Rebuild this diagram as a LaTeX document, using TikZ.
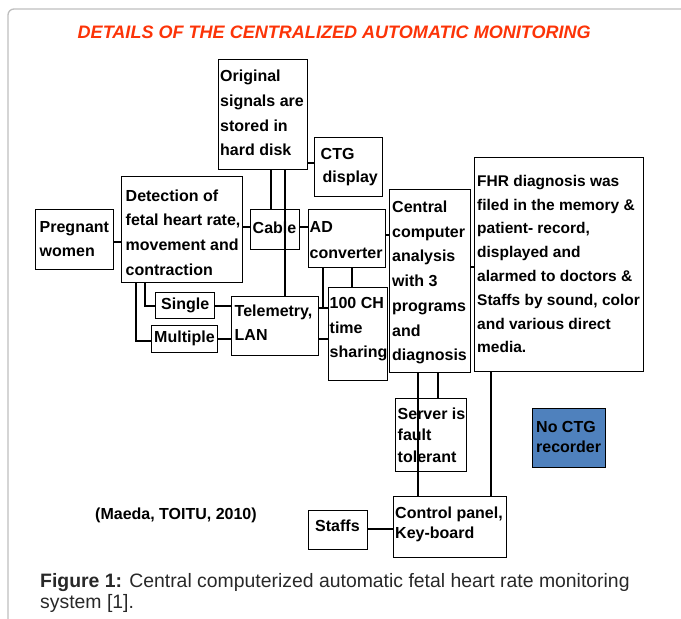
\documentclass[tikz,border=0pt]{standalone}
\usepackage{fontspec}
\setmainfont{Liberation Sans}
\definecolor{titlered}{RGB}{252,52,8}
\definecolor{boxblue}{RGB}{79,129,189}
\definecolor{framegray}{RGB}{190,190,190}
\definecolor{captiongray}{RGB}{40,40,40}
\begin{document}
\begin{tikzpicture}[x=1pt,y=-1pt,
  bx/.style={draw=black, line width=1.2pt, inner sep=0pt, anchor=north west},
  tx/.style={font=\bfseries\fontsize{16}{#1}\selectfont, align=left, inner sep=0pt, anchor=west},
  tx/.default=24,
  ln/.style={draw=black, line width=1.2pt}
]
\useasboundingbox (0,0) rectangle (681,619);
\draw[framegray, line width=1.3pt, rounded corners=6pt] (8,619) -- (8,9) -- (681,9);

\node[font=\bfseries\itshape\fontsize{18.05}{20}\selectfont, text=titlered, inner sep=0pt, anchor=west] (title) at (77.5,32) {DETAILS OF THE CENTRALIZED AUTOMATIC MONITORING};

% boxes
\node[bx, minimum width=89pt, minimum height=110pt] (orig) at (218,59) {};
\node[tx=24.7] (origT) at (220,113) {Original\\signals are\\stored in\\hard disk};
\node[bx, minimum width=68pt, minimum height=59pt] (ctg) at (314,137) {};
\node[tx=23.3] (ctgT) at (320.5,167) {CTG\\\hspace{2pt}display};
\node[bx, minimum width=78pt, minimum height=60pt] (preg) at (35,209) {};
\node[tx=24] (pregT) at (39.5,239.5) {Pregnant\\women};
\node[bx, minimum width=121pt, minimum height=106pt] (det) at (121,176) {};
\node[tx=24.7] (detT) at (125.5,232.5) {Detection of\\fetal heart rate,\\movement and\\contraction};
\node[bx, minimum width=49pt, minimum height=40pt] (cable) at (250,209) {};
\node[tx] (cableT) at (252.5,227.5) {Cable};
\node[bx, minimum width=77pt, minimum height=58pt] (ad) at (308,209) {};
\node[tx=26] (adT) at (309.5,240) {AD\\converter};
\node[bx, minimum width=81pt, minimum height=183pt] (cen) at (389,189) {};
\node[tx=24.7] (cenT) at (392,282.5) {Central\\computer\\analysis\\with 3\\programs\\and\\diagnosis};
\node[bx, minimum width=169pt, minimum height=214pt] (fhr) at (474,157) {};
\node[font=\bfseries\fontsize{15.5}{23.8}\selectfont, align=left, inner sep=0pt, anchor=west] (fhrT) at (477,264) {FHR diagnosis was\\filed in the memory \&\\patient- record,\\displayed and\\alarmed to doctors \&\\Staffs by sound, color\\and various direct\\media.};
\node[bx, minimum width=59pt, minimum height=93pt] (ch) at (328,287) {};
\node[tx=24.5] (chT) at (329.5,329.5) {100 CH\\time\\sharing};
\node[bx, minimum width=87pt, minimum height=59pt] (tele) at (231,296) {};
\node[tx=24] (teleT) at (234.5,322.5) {Telemetry,\\LAN};
\node[bx, minimum width=59pt, minimum height=26pt] (single) at (155,292) {};
\node[tx] (singleT) at (161,305) {Single};
\node[bx, minimum width=66pt, minimum height=27pt] (multi) at (151,325) {};
\node[tx] (multiT) at (154,338) {Multiple};
\node[bx, minimum width=71pt, minimum height=73pt] (server) at (395,398) {};
\node[tx=21.7] (serverT) at (397.5,435) {Server is\\fault\\tolerant};
\node[bx, minimum width=113pt, minimum height=61pt] (ctrl) at (393,496) {};
\node[tx=20] (ctrlT) at (395,524.5) {Control panel,\\Key-board};
\node[bx, minimum width=59pt, minimum height=39pt] (staffs) at (308,510) {};
\node[tx] (staffsT) at (315,526) {Staffs};
\node[bx, fill=boxblue, minimum width=73pt, minimum height=59pt] (noctg) at (532,408) {};
\node[tx=20] (noctgT) at (536,436.5) {No CTG\\recorder};
\node[tx] (maeda) at (95,515) {(Maeda, TOITU, 2010)};

% connectors
\draw[ln] (preg.east |- 0,242) -- (det.west |- 0,242);
\draw[ln] (det.east |- 0,227) -- (cable.west |- 0,227);
\draw[ln] (cable.east |- 0,227) -- (ad.west |- 0,227);
\draw[ln] (orig.east |- 0,163) -- (ctg.west |- 0,163);
\draw[ln] (orig.south -| 271,0) -- (cable.north -| 271,0);
\draw[ln] (orig.south -| 285,0) -- (tele.north -| 285,0);
\draw[ln] (ad.south -| 352,0) -- (ch.north -| 352,0);
\coordinate (j1) at (323,308);
\draw[ln] (ad.south -| j1) -- (j1);
\draw[ln] (tele.east |- j1) -- (ch.west |- j1);
\draw[ln] (tele.east |- 0,339) -- (ch.west |- 0,339);
\draw[ln] (ad.east |- 0,235) -- (cen.west |- 0,235);
\draw[ln] (cen.east |- 0,267) -- (fhr.west |- 0,267);
\draw[ln] (det.south -| 145,0) |- (single.west |- 0,306);
\draw[ln] (det.south -| 136,0) |- (multi.west |- 0,341);
\draw[ln] (single.east |- 0,306) -- (tele.west |- 0,306);
\draw[ln] (multi.east |- 0,339) -- (tele.west |- 0,339);
\draw[ln] (cen.south -| 438,0) -- (server.north -| 438,0);
\draw[ln] (cen.south -| 418,0) -- (ctrl.north -| 418,0);
\draw[ln] (fhr.south -| 491,0) -- (ctrl.north -| 491,0);
\draw[ln] (staffs.east |- 0,529) -- (ctrl.west |- 0,529);

% caption
\node[font=\fontsize{19.4}{21}\selectfont, text=captiongray, align=left, inner sep=0pt, anchor=west] (caption) at (40,593) {\textbf{Figure 1:} Central computerized automatic fetal heart rate monitoring\\system [1].};
\end{tikzpicture}
\end{document}
